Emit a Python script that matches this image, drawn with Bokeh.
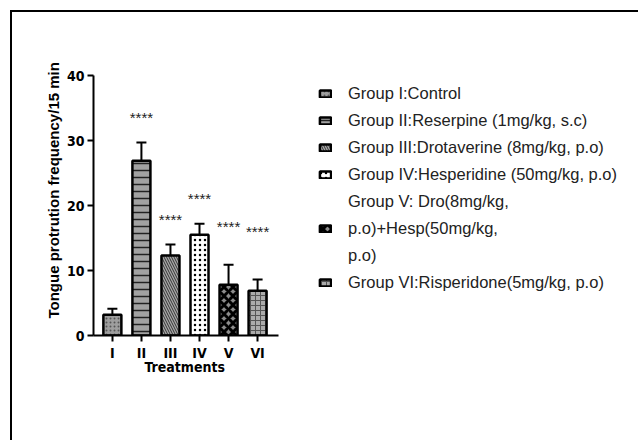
from bokeh.plotting import figure
from bokeh.models import (ColumnDataSource, Whisker, TeeHead, FixedTicker, Legend,
                          LegendItem, Title)
from bokeh.core.properties import value
from bokeh.embed import file_html
from bokeh.resources import INLINE

# ---------------- data ----------------
groups = ["I", "II", "III", "IV", "V", "VI"]
means = [3.2, 26.9, 12.3, 15.5, 7.8, 6.9]
sems = [0.9, 2.8, 1.7, 1.7, 3.1, 1.7]
star_groups = ["II", "III", "IV", "V", "VI"]
star_heights = [34.0, 18.3, 21.5, 17.2, 16.5]
star_text = "****"
y_ticks = [0, 10, 20, 30, 40]
legend_labels = [
    "Group I:Control",
    "Group II:Reserpine (1mg/kg, s.c)",
    "Group III:Drotaverine (8mg/kg, p.o)",
    "Group IV:Hesperidine (50mg/kg, p.o)",
    ["Group V: Dro(8mg/kg,", "p.o)+Hesp(50mg/kg,", "p.o)"],
    "Group VI:Risperidone(5mg/kg, p.o)",
]
x_title = "Treatments"
y_title = "Tongue protrution frequency/15 min"

# ---------------- styles ----------------
fills = ["#9e9e9e", "#a2a2a2", "#a8a8a8", "#ffffff", "#8c8c8c", "#ababab"]
hatches = [".", "-", "\\", ".", "x", "+"]
hatch_colors = ["#555555", "#222222", "#333333", "#000000", "#000000", "#555555"]
hatch_scales = [4, 7, 5, 5, 9, 5]
hatch_weights = [1, 1.5, 1, 3, 3, 1]

COND = "'Liberation Sans Narrow', 'DejaVu Sans Condensed', sans-serif"
SANS = "'Liberation Sans', Arial, sans-serif"

xs = [i + 1 for i in range(len(groups))]
src = ColumnDataSource(dict(
    x=xs, mean=means, top=[m + s for m, s in zip(means, sems)],
    fill=fills, hatch=hatches, hcol=hatch_colors, hscale=hatch_scales, hweight=hatch_weights,
))

# frame spans the chart and the legend area; the x axis line is bounded to the bars
p = figure(frame_width=537, frame_height=260, output_backend="svg", toolbar_location=None,
           x_range=(0.35, 18.84), y_range=(0, 40),
           min_border_left=81, min_border_right=8, min_border_top=63, min_border_bottom=105)
p.outline_line_color = None
p.grid.visible = False
p.background_fill_color = "white"
p.border_fill_color = "white"
p.margin = (12, 0, 0, 12)
p.styles = {"outline": "2px solid black"}

bars = p.vbar(x="x", top="mean", bottom=0, width=0.62, source=src,
              fill_color="fill", hatch_pattern="hatch", hatch_color="hcol",
              hatch_scale="hscale", hatch_weight="hweight",
              line_color="black", line_width=2.5)

whisk = Whisker(source=src, base="x", lower="mean", upper="top", line_width=2,
                line_color="black", lower_head=None,
                upper_head=TeeHead(size=10, line_width=2, line_color="black"))
p.add_layout(whisk)

star_x = [groups.index(g) + 1 for g in star_groups]
p.text(x=star_x, y=star_heights, text=[star_text] * len(star_x),
       text_align="center", text_baseline="middle", y_offset=3,
       text_font=value(SANS), text_font_size="15px", text_color="#222222")

# axes
for ax in (p.xaxis, p.yaxis):
    ax.axis_line_width = 2
    ax.major_tick_line_width = 2
    ax.major_tick_out = 6
    ax.major_tick_in = 0
    ax.minor_tick_line_color = None
    ax.major_label_text_font = COND
    ax.major_label_text_font_style = "bold"
    ax.major_label_text_font_size = "14px"
    ax.major_label_text_color = "black"
    ax.major_label_standoff = 3

p.yaxis.ticker = FixedTicker(ticks=y_ticks)
p.xaxis.ticker = FixedTicker(ticks=xs)
p.xaxis.bounds = (0.35, 6.72)
p.xaxis.major_label_overrides = {x: g for x, g in zip(xs, groups)}

xtitle = Title(text=x_title, align="left", offset=51, standoff=-13,
               text_font=COND, text_font_style="bold", text_font_size="14px",
               text_color="black")
p.add_layout(xtitle, "below")

ytitle = Title(text=y_title, align="left", offset=17, standoff=4,
               text_font=SANS, text_font_style="bold", text_font_size="15px",
               text_color="black")
p.add_layout(ytitle, "left")

# legend
dummy = p.vbar(x=[], top=[], width=0.5, fill_alpha=0, line_alpha=0)
items = []
for i, lab in enumerate(legend_labels):
    if isinstance(lab, list):
        items.append(LegendItem(label=lab[0], renderers=[dummy]))
        items.append(LegendItem(label=lab[1], renderers=[bars], index=i))
        items.append(LegendItem(label=lab[2], renderers=[dummy]))
    else:
        items.append(LegendItem(label=lab, renderers=[bars], index=i))

legend = Legend(items=items, location=(225, 42), padding=0, margin=0,
                spacing=6, label_height=21, glyph_width=14, glyph_height=9,
                label_standoff=16, border_line_color=None, background_fill_alpha=0,
                label_text_font=SANS, label_text_font_size="16.5px",
                label_text_color="#222222")
p.add_layout(legend, "center")

open("out.html", "w").write(file_html(p, INLINE))
